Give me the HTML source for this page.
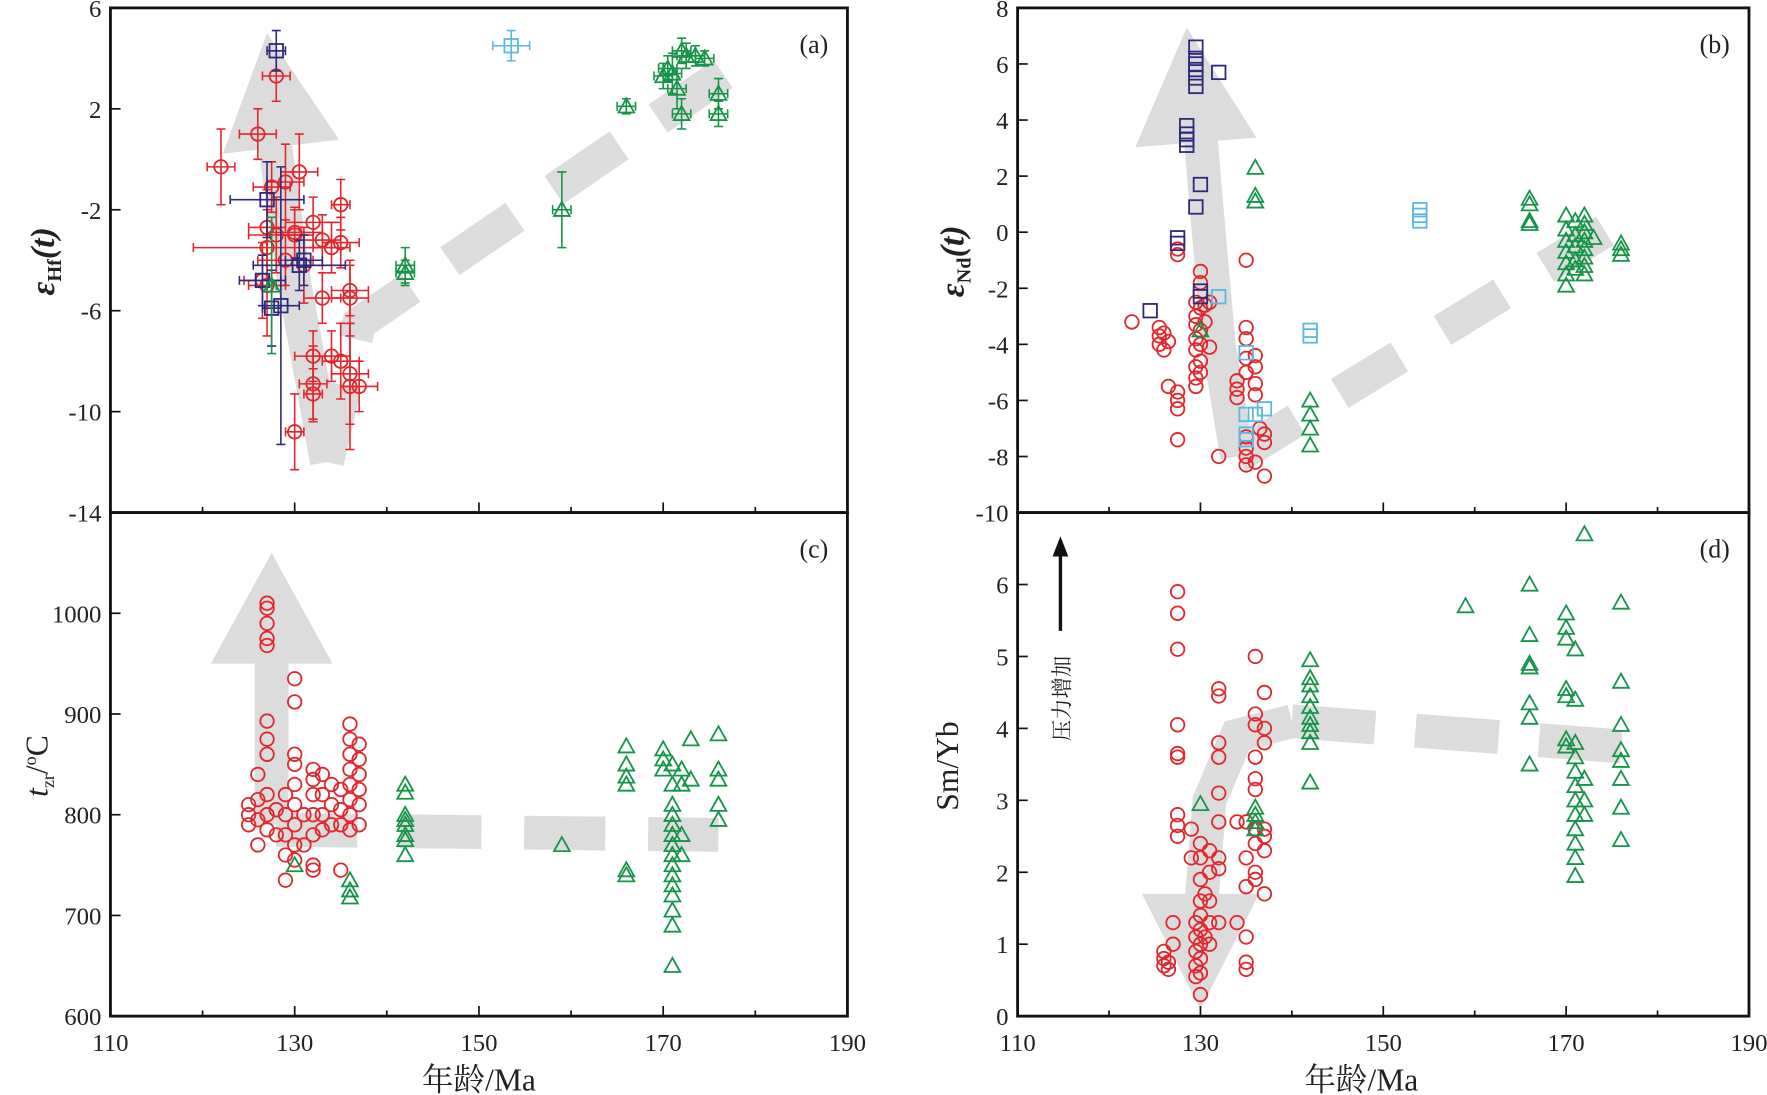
<!DOCTYPE html>
<html><head><meta charset="utf-8"><style>
html,body{margin:0;padding:0;background:#fff}
svg{display:block}
text{font-family:"Liberation Serif","Noto Serif CJK SC",serif;fill:#222}
</style></head><body>
<svg id="fig" width="1767" height="1095" viewBox="0 0 1568 972" preserveAspectRatio="none" xmlns="http://www.w3.org/2000/svg"></svg>
<script>
// ---- data ----
const xTicks=[110,130,150,170,190];
const aTicks=[6,2,-2,-6,-10,-14];
const bTicks=[8,6,4,2,0,-2,-4,-6,-8,-10];
const cTicks=[600,700,800,900,1000];
const dTicks=[0,1,2,3,4,5,6];
// panel a: [age, eHf, ageErr, eHfErr]
const aRed=[[122,-0.3,1.5,1.5],[126,1,2,1],[128,3.3,1.5,1],[127.5,-1.1,2,1],[129,-0.9,2,1.5],[130.5,-0.5,2,1.5],[127,-2.7,2,1.5],[127,-3.5,8,1.5],[128,-3,3,1.5],[130,-3,2,1],[132,-2.5,3,1],[133,-3.2,2,1],[134,-3.5,2,1],[135,-1.8,1,1],[135,-3.3,2,1],[129,-4,3,1],[131,-4.2,2,1.5],[127,-5,2,2],[133,-5.5,2,1],[136,-5.5,2,1.5],[136,-5.2,2,1],[132,-7.8,2,1],[134,-7.8,2,1],[135,-8,2,1.5],[132,-8.9,1.5,1.5],[136,-8.5,2,2],[136,-9,1,2.5],[137,-9,2,1],[132,-9.3,1,1],[130,-10.8,1,1.5],[126.5,-4.8,2,1.5],[130,-2.9,3,1]];
const aNavy=[[128,4.3,1,0.8],[127,-1.6,4,1.5],[130.5,-4.2,5,1],[131,-4,2,1],[126.5,-4.8,2.5,1],[128.5,-5.8,2,5.5],[127.5,-5.9,1,1.5]];
const aSky=[[153.5,4.5,2,0.6]];
const aGreen=[[127.5,-5,0.5,2.7],[142,-4.2,1,0.7],[142,-4.5,1,0.5],[159,-2,1,1.5],[166,2.1,1,0.3],[170,3.3,1,0.5],[171,3.4,1,0.8],[171.5,2.8,1,0.8],[172,4.3,1,0.5],[172.5,4.1,1,0.5],[173.5,4.1,1,0.4],[174.5,4,1,0.3],[172,1.8,1,0.6],[176,2.6,1,0.6],[176,1.8,1,0.5],[170.5,3.6,1,0.5]];
// panel b: [age, eNd]
const bNavy=[[129.5,6.6],[129.5,6.2],[129.5,6],[129.5,5.8],[129.5,5.5],[129.5,5.2],[132,5.7],[128.5,3.8],[128.5,3.5],[128.5,3.3],[128.5,3.1],[130,1.7],[129.5,0.9],[127.5,-0.2],[127.5,-0.4],[130,-2.1],[130,-2.3],[124.5,-2.8]];
const bSky=[[154,0.4],[154,0.6],[154,0.8],[132,-2.3],[142,-3.5],[142,-3.7],[135,-4.3],[135,-6.5],[137,-6.3],[136,-6.5],[135,-7.2],[135,-7.4]];
const bRed=[[122.5,-3.2],[125.5,-3.4],[125.5,-3.7],[125.5,-4],[126,-3.6],[126,-4.2],[126.5,-3.9],[126.5,-5.5],[127.5,-5.7],[127.5,-6],[127.5,-6.3],[127.5,-7.4],[127.5,-0.6],[127.5,-0.8],[129.5,-2.5],[129.5,-3],[129.5,-3.3],[129.5,-3.8],[129.5,-4.2],[129.5,-4.8],[129.5,-5.2],[129.5,-5.5],[130,-1.4],[130,-1.8],[130,-2.7],[130,-3.5],[130,-4],[130,-4.6],[130,-5],[130.5,-2.6],[130.5,-3.2],[131,-2.5],[131,-4.1],[132,-8],[134,-5.3],[134,-5.6],[134,-5.9],[135,-1],[135,-3.4],[135,-3.8],[135,-4.5],[135,-5],[135,-7.3],[135,-7.7],[135,-8],[135,-8.3],[136,-4.4],[136,-4.8],[136,-5.4],[136,-5.8],[136,-8.2],[136.5,-7],[137,-7.2],[137,-7.5],[137,-8.7]];
const bGreen=[[136,2.3],[136,1.3],[136,1.1],[130,-3.5],[142,-6],[142,-6.5],[142,-7],[142,-7.6],[166,1.2],[166,1],[166,0.4],[166,0.3],[170,0.6],[170,0.1],[170,-0.3],[170,-0.7],[170,-1.1],[170,-1.5],[170,-1.9],[171,0.4],[171,-0.1],[171,-0.5],[171,-1],[171,-1.3],[172,0.6],[172,0.3],[172,0],[172,-0.3],[172,-0.6],[172,-0.9],[172,-1.2],[172,-1.5],[173,-0.2],[176,-0.4],[176,-0.6],[176,-0.8]];
// panel c: [age, tzr]
const cRed=[[125,790],[125,800],[125,810],[126,795],[126,815],[126,840],[126,770],[127,1010],[127,1005],[127,990],[127,975],[127,968],[127,893],[127,875],[127,860],[127,820],[127,800],[127,785],[128,805],[128,780],[129,760],[129,735],[129,780],[129,800],[129,820],[130,935],[130,912],[130,860],[130,850],[130,830],[130,810],[130,790],[130,770],[130,755],[131,800],[131,770],[132,845],[132,835],[132,820],[132,800],[132,780],[132,750],[132,745],[133,840],[133,820],[133,800],[133,785],[134,830],[134,810],[134,790],[135,825],[135,805],[135,790],[135,745],[136,890],[136,875],[136,860],[136,845],[136,830],[136,815],[136,800],[136,785],[137,870],[137,855],[137,840],[137,825],[137,810],[137,790]];
const cGreen=[[130,750],[136,735],[136,725],[136,718],[142,830],[142,822],[142,800],[142,795],[142,790],[142,780],[142,775],[142,760],[159,770],[166,868],[166,850],[166,838],[166,830],[166,745],[166,740],[170,865],[170,855],[170,845],[171,850],[171,830],[171,810],[171,800],[171,790],[171,780],[171,770],[171,760],[171,750],[171,740],[171,730],[171,720],[171,705],[171,690],[171,650],[172,845],[172,830],[172,780],[172,760],[173,875],[173,835],[176,880],[176,845],[176,835],[176,810],[176,795]];
// panel d: [age, SmYb]
const dRed=[[126,0.9],[126,0.8],[126,0.7],[126.5,0.65],[126.5,0.75],[127,1.3],[127,1],[127.5,5.9],[127.5,5.6],[127.5,5.1],[127.5,4.05],[127.5,3.65],[127.5,3.6],[127.5,2.8],[127.5,2.65],[127.5,2.5],[129,2.6],[129,2.2],[129.5,1.3],[129.5,1.1],[129.5,0.9],[129.5,0.7],[129.5,0.55],[130,2.4],[130,2.2],[130,1.9],[130,1.6],[130,1.4],[130,1.2],[130,1],[130,0.8],[130,0.6],[130,0.3],[130.5,1.7],[130.5,1.1],[131,2.3],[131,2.0],[131,1.6],[131,1.3],[131,1.0],[132,4.55],[132,4.45],[132,3.8],[132,3.6],[132,3.1],[132,2.7],[132,2.2],[132,2.05],[132,1.3],[134,2.7],[134,1.3],[135,2.7],[135,2.2],[135,1.8],[135,1.1],[135,0.75],[135,0.65],[136,5],[136,4.2],[136,4.05],[136,3.6],[136,3.3],[136,3.15],[136,2.6],[136,2.4],[136,2],[136,1.9],[137,4.5],[137,4.0],[137,3.8],[137,2.6],[137,2.5],[137,2.3],[137,1.7]];
const dGreen=[[130,2.95],[136,2.9],[136,2.8],[136,2.7],[136,2.6],[142,4.95],[142,4.7],[142,4.6],[142,4.45],[142,4.3],[142,4.15],[142,4.05],[142,3.95],[142,3.8],[142,3.25],[159,5.7],[166,6],[166,5.3],[166,4.9],[166,4.85],[166,4.35],[166,4.15],[166,3.5],[170,5.6],[170,5.4],[170,5.25],[170,4.55],[170,4.45],[170,3.85],[170,3.75],[171,5.1],[171,4.4],[171,3.8],[171,3.6],[171,3.4],[171,3.2],[171,3.0],[171,2.8],[171,2.6],[171,2.4],[171,2.2],[171,1.95],[172,6.7],[172,3.3],[172,3.0],[172,2.8],[176,5.75],[176,4.65],[176,4.05],[176,3.7],[176,3.55],[176,3.3],[176,2.9],[176,2.45]];

// ---- layout ----
const NS="http://www.w3.org/2000/svg";
const svg=document.getElementById('fig');
function el(tag,attrs,parent){const e=document.createElementNS(NS,tag);for(const k in attrs)e.setAttribute(k,attrs[k]);(parent||svg).appendChild(e);return e;}
const panels={
 a:{x0:98,x1:752,y0:7,y1:455,vmin:-14,vmax:6},
 b:{x0:903,x1:1552,y0:7,y1:455,vmin:-10,vmax:8},
 c:{x0:98,x1:752,y0:455,y1:902,vmin:600,vmax:1100},
 d:{x0:903,x1:1552,y0:455,y1:902,vmin:0,vmax:7}
};
function X(p,a){return p.x0+(a-110)/80*(p.x1-p.x0);}
function Y(p,v){return p.y1-(v-p.vmin)/(p.vmax-p.vmin)*(p.y1-p.y0);}
const RED="#e3262b",NAVY="#2c2a7c",SKY="#5ab7e6",GREEN="#169447",GRAY="#dcdcdc";

function grayPath(p,pts,dash,name){
  const g=el('polyline',{points:pts.map(q=>X(p,q[0])+','+Y(p,q[1])).join(' '),fill:'none',stroke:GRAY,'stroke-width':30,'stroke-dasharray':dash||'none'});
  
}
function grayHead(p,tip,base,w,name){
  const tx=X(p,tip[0]),ty=Y(p,tip[1]),bx=X(p,base[0]),by=Y(p,base[1]);
  const dx=tx-bx,dy=ty-by,L=Math.hypot(dx,dy),nx=-dy/L*w,ny=dx/L*w;
  const h=el('polygon',{points:`${tx},${ty} ${bx+nx},${by+ny} ${bx-nx},${by-ny}`,fill:GRAY});
  
}
grayPath(panels.a,[[133.5,-12],[130,-5],[127.5,1.5]],null,'trend-arrow-a');
grayHead(panels.a,[127,5],[128.5,0.5],52,'trend-arrowhead-a');
grayPath(panels.a,[[133.5,-12],[137,-6.5],[177,3.5]],'70,42','trend-dash-a');
grayPath(panels.b,[[134,-8],[132,-4],[130.5,1.5],[130,3.5]],null,'trend-arrow-b');
grayHead(panels.b,[128.5,7.3],[129.5,3.2],54,'trend-arrowhead-b');
grayPath(panels.b,[[134,-8],[140,-6.8],[178,0.8]],'62,45','trend-dash-b');
grayPath(panels.c,[[127.5,790],[127.5,980]],null,'trend-arrow-c');
grayHead(panels.c,[127.5,1060],[127.5,950],54,'trend-arrowhead-c');
grayPath(panels.c,[[128,785],[176,780]],'72,38','trend-dash-c');
grayPath(panels.d,[[130,1.4],[131,3],[134,3.9],[140,4.1]],null,'trend-arrow-d');
grayHead(panels.d,[130,0.1],[130,1.7],52,'trend-arrowhead-d');
grayPath(panels.d,[[140,4.1],[176,3.75]],'74,36','trend-dash-d');

function marker(p,type,color,a,v,name){
  const x=X(p,a),y=Y(p,v);let m;
  if(type==='o')m=el('circle',{cx:x,cy:y,r:6,fill:'none',stroke:color,'stroke-width':1.6});
  else if(type==='s')m=el('rect',{x:x-6,y:y-6,width:12,height:12,fill:'none',stroke:color,'stroke-width':1.6});
  else m=el('polygon',{points:`${x},${y-7} ${x-7},${y+5.5} ${x+7},${y+5.5}`,fill:'none',stroke:color,'stroke-width':1.6});
  
  
}
function errPoint(p,type,color,d,name){
  const [a,v,ea,ev]=d;const x=X(p,a),y=Y(p,v);
  const x1=X(p,a-ea),x2=X(p,a+ea),y1=Y(p,v+ev),y2=Y(p,v-ev);
  const e=el('path',{d:`M${x1},${y}H${x2}M${x1},${y-4}v8M${x2},${y-4}v8M${x},${y1}V${y2}M${x-4},${y1}h8M${x-4},${y2}h8`,stroke:color,'stroke-width':1.4,fill:'none'});
  
  
  marker(p,type,color,a,v,name);
}
aRed.forEach(d=>errPoint(panels.a,'o',RED,d,'a-red-point'));
aNavy.forEach(d=>errPoint(panels.a,'s',NAVY,d,'a-navy-point'));
aSky.forEach(d=>errPoint(panels.a,'s',SKY,d,'a-sky-point'));
aGreen.forEach(d=>errPoint(panels.a,'t',GREEN,d,'a-green-point'));
bRed.forEach(d=>marker(panels.b,'o',RED,d[0],d[1],'b-red-point'));
bNavy.forEach(d=>marker(panels.b,'s',NAVY,d[0],d[1],'b-navy-point'));
bSky.forEach(d=>marker(panels.b,'s',SKY,d[0],d[1],'b-sky-point'));
bGreen.forEach(d=>marker(panels.b,'t',GREEN,d[0],d[1],'b-green-point'));
cRed.forEach(d=>marker(panels.c,'o',RED,d[0],d[1],'c-red-point'));
cGreen.forEach(d=>marker(panels.c,'t',GREEN,d[0],d[1],'c-green-point'));
dRed.forEach(d=>marker(panels.d,'o',RED,d[0],d[1],'d-red-point'));
dGreen.forEach(d=>marker(panels.d,'t',GREEN,d[0],d[1],'d-green-point'));

function frame(p,key,yt,showX){
  const r=el('rect',{x:p.x0,y:p.y0,width:p.x1-p.x0,height:p.y1-p.y0,fill:'none',stroke:'#111','stroke-width':2.5});
  
  for(let a=110;a<=190;a+=10){const x=X(p,a),len=(a%20===10)?9:5;
    el('line',{x1:x,y1:p.y1,x2:x,y2:p.y1-len,stroke:'#111','stroke-width':1.5});}
  yt.forEach(v=>{const y=Y(p,v);
    el('line',{x1:p.x0,y1:y,x2:p.x0+9,y2:y,stroke:'#111','stroke-width':1.5});
    const t=el('text',{x:p.x0-8,y:y+8,'text-anchor':'end','font-size':22});t.textContent=v;
    });
  if(showX) xTicks.forEach(a=>{const t=el('text',{x:X(p,a),y:p.y1+31,'text-anchor':'middle','font-size':22});t.textContent=a;
    });
  const l=el('text',{x:p.x1-17,y:p.y0+40,'text-anchor':'end','font-size':23});l.textContent='('+key+')';
  
}
frame(panels.a,'a',aTicks,false);
frame(panels.b,'b',bTicks,false);
frame(panels.c,'c',cTicks,true);
frame(panels.d,'d',dTicks,true);
</script>
<svg style="position:absolute;left:0;top:0" width="1767" height="1095" viewBox="0 0 1568 972" preserveAspectRatio="none">
<text transform="translate(48,232) rotate(-90)" text-anchor="middle" font-size="30" font-weight="bold" font-style="italic">ε<tspan font-size="18" dy="6" font-style="normal">Hf</tspan><tspan dy="-6">(t)</tspan></text>
<text transform="translate(855,232) rotate(-90)" text-anchor="middle" font-size="30" font-weight="bold" font-style="italic">ε<tspan font-size="18" dy="6" font-style="normal">Nd</tspan><tspan dy="-6">(t)</tspan></text>
<text transform="translate(42,680) rotate(-90)" text-anchor="middle" font-size="28"><tspan font-style="italic">t</tspan><tspan font-size="16" dy="6">zr</tspan><tspan dy="-6">/</tspan><tspan font-size="16" dy="-10">o</tspan><tspan dy="10">C</tspan></text>
<text transform="translate(850,680) rotate(-90)" text-anchor="middle" font-size="28">Sm/Yb</text>
<text x="425" y="968" text-anchor="middle" font-size="28">年龄/Ma</text>
<text x="1208" y="968" text-anchor="middle" font-size="28">年龄/Ma</text>
<g>
<line x1="941" y1="560" x2="941" y2="492" stroke="#111" stroke-width="3"/>
<polygon points="941,476 934,494 948,494" fill="#111"/>
<text transform="translate(949,620) rotate(-90)" text-anchor="middle" font-size="19" font-family="Noto Sans CJK SC, sans-serif">压力增加</text>
</g>
</svg>
</body></html>
